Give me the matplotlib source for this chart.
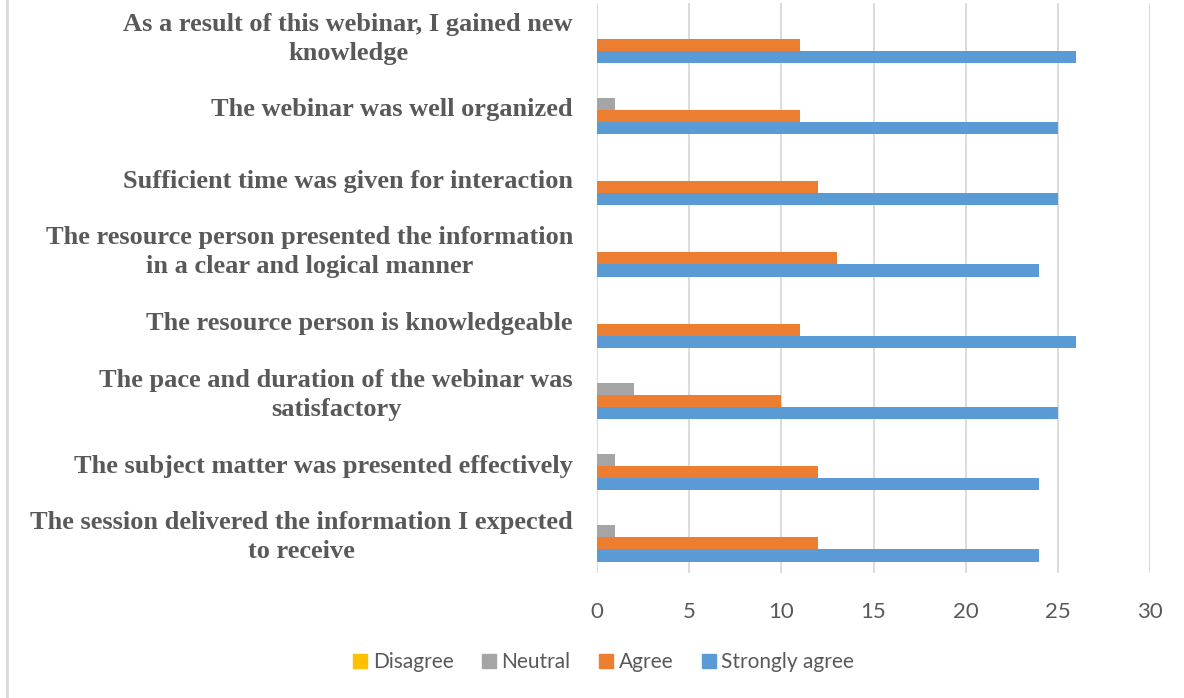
import numpy as np
import matplotlib
matplotlib.use('Agg')
import matplotlib.pyplot as plt
from matplotlib.lines import Line2D

# ── Data (top to bottom as shown) ─────────────────────────────────────────────
statements = [
    "As a result of this webinar, I gained new\nknowledge",
    "The webinar was well organized",
    "Sufficient time was given for interaction",
    "The resource person presented the information\nin a clear and logical manner",
    "The resource person is knowledgeable",
    "The pace and duration of the webinar was\nsatisfactory",
    "The subject matter was presented effectively",
    "The session delivered the information I expected\nto receive",
]
series_names = ["Disagree", "Neutral", "Agree", "Strongly agree"]
disagree       = [0, 0, 0, 0, 0, 0, 0, 0]
neutral        = [0, 1, 0, 0, 0, 2, 1, 1]
agree          = [11, 11, 12, 13, 11, 10, 12, 12]
strongly_agree = [26, 25, 25, 24, 26, 25, 24, 24]
x_ticks = [0, 5, 10, 15, 20, 25, 30]

colors = ['#FFC000', '#A5A5A5', '#ED7D31', '#5B9BD5']
text_gray = '#595959'
grid_gray = '#D9D9D9'

# ── Figure ────────────────────────────────────────────────────────────────────
fig = plt.figure(figsize=(11.84, 6.98), dpi=100)
ax = fig.add_axes([597/1184, 1 - 573/698, (1150 - 597)/1184, (573 - 3)/698])

n = len(statements)
base = np.arange(n)[::-1]          # first statement at top
h = 0.17
offsets = [1.5*h, 0.5*h, -0.5*h, -1.5*h]
values = [disagree, neutral, agree, strongly_agree]

for vals, off, col, name in zip(values, offsets, colors, series_names):
    ax.barh(base + off, vals, height=h, color=col, label=name,
            edgecolor='none', zorder=3)

ax.set_xlim(0, 30)
ax.set_ylim(-0.5, n - 0.5)
ax.set_xticks(x_ticks)
ax.set_xticklabels([str(t) for t in x_ticks], fontfamily='Lato',
                   fontsize=16, color=text_gray)
ax.tick_params(axis='x', length=0, pad=21)
ax.tick_params(axis='y', length=0)
ax.set_yticks([])
ax.grid(axis='x', color=grid_gray, lw=1.3, zorder=0)
for sp in ax.spines.values():
    sp.set_visible(False)

# Category labels, right aligned block with centred lines
for y, label in zip(base, statements):
    ax.text(-24/18.43, y, label, ha='right', va='center', multialignment='center',
            fontfamily='Liberation Serif', fontweight='bold', fontsize=19,
            color=text_gray, linespacing=1.32, transform=ax.transData)

# Legend
handles = [Line2D([0], [0], marker='s', ls='none', markersize=10,
                  markerfacecolor=c, markeredgecolor=c) for c in colors]
fig.legend(handles, series_names, loc='center', bbox_to_anchor=(602/1184, 1 - 662/698),
           ncol=4, frameon=False, handletextpad=0.1, columnspacing=1.2,
           handlelength=1.0, prop={'family': 'Lato', 'size': 15},
           labelcolor=text_gray)

# Chart frame edge on the left
fig.add_artist(Line2D([7/1184, 7/1184], [0, 1], color=grid_gray, lw=2,
                      transform=fig.transFigure))

fig.savefig('out.png', dpi=100, facecolor='white')
